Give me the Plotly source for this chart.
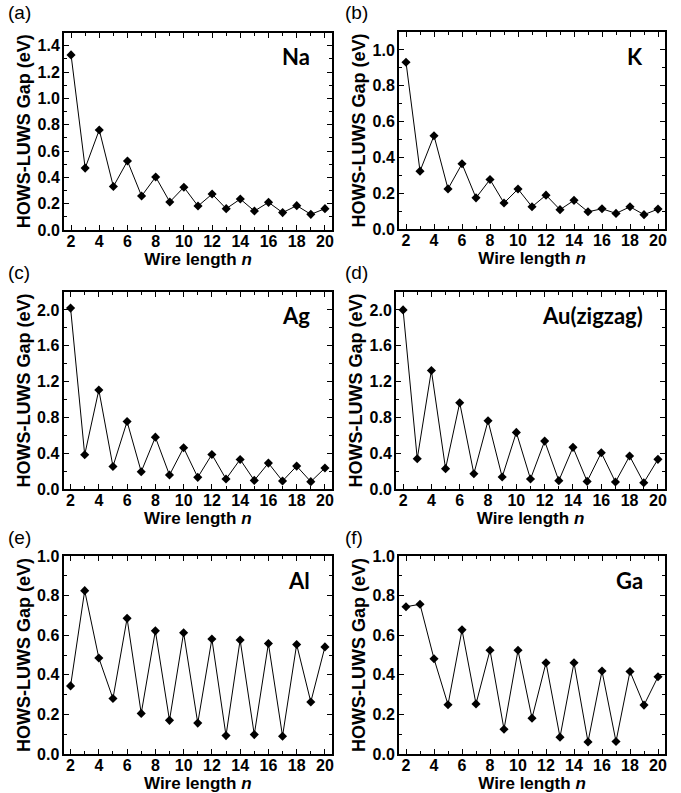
import plotly.graph_objects as go

n = list(range(2, 21))

na = [1.33, 0.47, 0.76, 0.33, 0.524, 0.258, 0.403, 0.213, 0.325, 0.182, 0.273, 0.162, 0.235, 0.144, 0.21, 0.132, 0.185, 0.119, 0.162]
k = [0.931, 0.323, 0.521, 0.224, 0.364, 0.174, 0.276, 0.145, 0.223, 0.124, 0.189, 0.108, 0.16, 0.096, 0.113, 0.087, 0.124, 0.08, 0.111]
ag = [2.02, 0.382, 1.106, 0.252, 0.753, 0.193, 0.579, 0.156, 0.46, 0.13, 0.386, 0.111, 0.33, 0.096, 0.289, 0.089, 0.256, 0.082, 0.234]
au = [2.0, 0.338, 1.323, 0.227, 0.963, 0.171, 0.762, 0.134, 0.632, 0.112, 0.535, 0.093, 0.465, 0.085, 0.405, 0.078, 0.368, 0.07, 0.331]
al = [0.344, 0.825, 0.485, 0.28, 0.685, 0.205, 0.622, 0.17, 0.612, 0.156, 0.581, 0.093, 0.576, 0.098, 0.558, 0.09, 0.553, 0.263, 0.541]
ga = [0.744, 0.756, 0.481, 0.249, 0.627, 0.253, 0.524, 0.125, 0.524, 0.181, 0.461, 0.085, 0.461, 0.061, 0.419, 0.063, 0.417, 0.247, 0.39]

series = [na, k, ag, au, al, ga]
elements = ["Na", "K", "Ag", "Au(zigzag)", "Al", "Ga"]
panel_tags = ["(a)", "(b)", "(c)", "(d)", "(e)", "(f)"]
y_ranges = [(0, 1.5), (0, 1.1), (0, 2.2), (0, 2.2), (0, 1.0), (0, 1.0)]
y_dticks = [0.2, 0.2, 0.4, 0.4, 0.2, 0.2]
x_ticks = list(range(2, 21, 2))

W, H = 681, 793
# panel pixel boxes: left, right, top, bottom
boxes = [
    (64, 332, 32.5, 230),
    (399, 665, 32, 229),
    (63.5, 332, 292, 489),
    (396, 665, 292, 489),
    (63.5, 332, 556, 754),
    (399, 665, 556, 754),
]
tag_pos = [(6, 0), (343, 0), (6, 260), (343, 260), (6, 525), (343, 525)]

fig = go.Figure()
FONT = "Arial"

for i, (ys, el, tag) in enumerate(zip(series, elements, panel_tags)):
    idx = "" if i == 0 else str(i + 1)
    fig.add_trace(go.Scatter(
        x=n, y=ys, mode="lines+markers",
        line=dict(color="black", width=1),
        marker=dict(symbol="diamond", size=7, color="black"),
        xaxis="x" + idx, yaxis="y" + idx, showlegend=False,
    ))
    l, r, t, b = boxes[i]
    xd = [l / W, r / W]
    yd = [1 - b / H, 1 - t / H]
    common = dict(
        showline=True, linecolor="black", linewidth=2, mirror="all",
        ticks="inside", ticklen=5, tickwidth=1.3, tickcolor="black",
        showgrid=False, zeroline=False, automargin=False,
        tickfont=dict(family=FONT, size=16, color="black", weight="bold"),
    )
    fig.update_layout(**{
        "xaxis" + idx: dict(
            domain=xd, range=[1.5, 20.5], tickvals=x_ticks,
            anchor="y" + idx, ticklabelstandoff=-4,
            minor=dict(ticks="inside", ticklen=3, dtick=1, tick0=1, tickcolor="black", tickwidth=1.2),
            title=dict(text="Wire length <i>n</i>", font=dict(family=FONT, size=17, color="black", weight="bold"), standoff=0),
            **common,
        ),
        "yaxis" + idx: dict(
            domain=yd, range=list(y_ranges[i]), dtick=y_dticks[i], tick0=0, tickformat=".1f",
            anchor="x" + idx, ticklabelstandoff=-1,
            minor=dict(ticks="inside", ticklen=3, dtick=y_dticks[i] / 2, tick0=0, tickcolor="black", tickwidth=1.2),
            title=dict(text="HOWS-LUWS Gap (eV)", font=dict(family=FONT, size=18, color="black", weight="bold"), standoff=2),
            **common,
        ),
    })
    fig.add_annotation(
        text="<b>" + el + "</b>", xref=("x" + idx + " domain"), yref=("y" + idx + " domain"),
        x=1 - 20 / (r - l), y=1 - 24 / (b - t), xanchor="right", yanchor="middle",
        showarrow=False, font=dict(family="Lato", size=22, color="black"),
    )
    tx, ty = tag_pos[i]
    fig.add_annotation(
        text=tag, xref="paper", yref="paper", x=tx / W, y=1 - ty / H,
        xanchor="left", yanchor="top", showarrow=False,
        font=dict(family=FONT, size=19, color="black"),
    )

fig.update_layout(
    width=W, height=H,
    margin=dict(l=0, r=0, t=0, b=0),
    plot_bgcolor="white", paper_bgcolor="white",
)
fig.write_html(
    "out.html",
    config={"displayModeBar": False},
    post_script="document.body.style.margin='0';document.body.style.overflow='hidden';",
)
